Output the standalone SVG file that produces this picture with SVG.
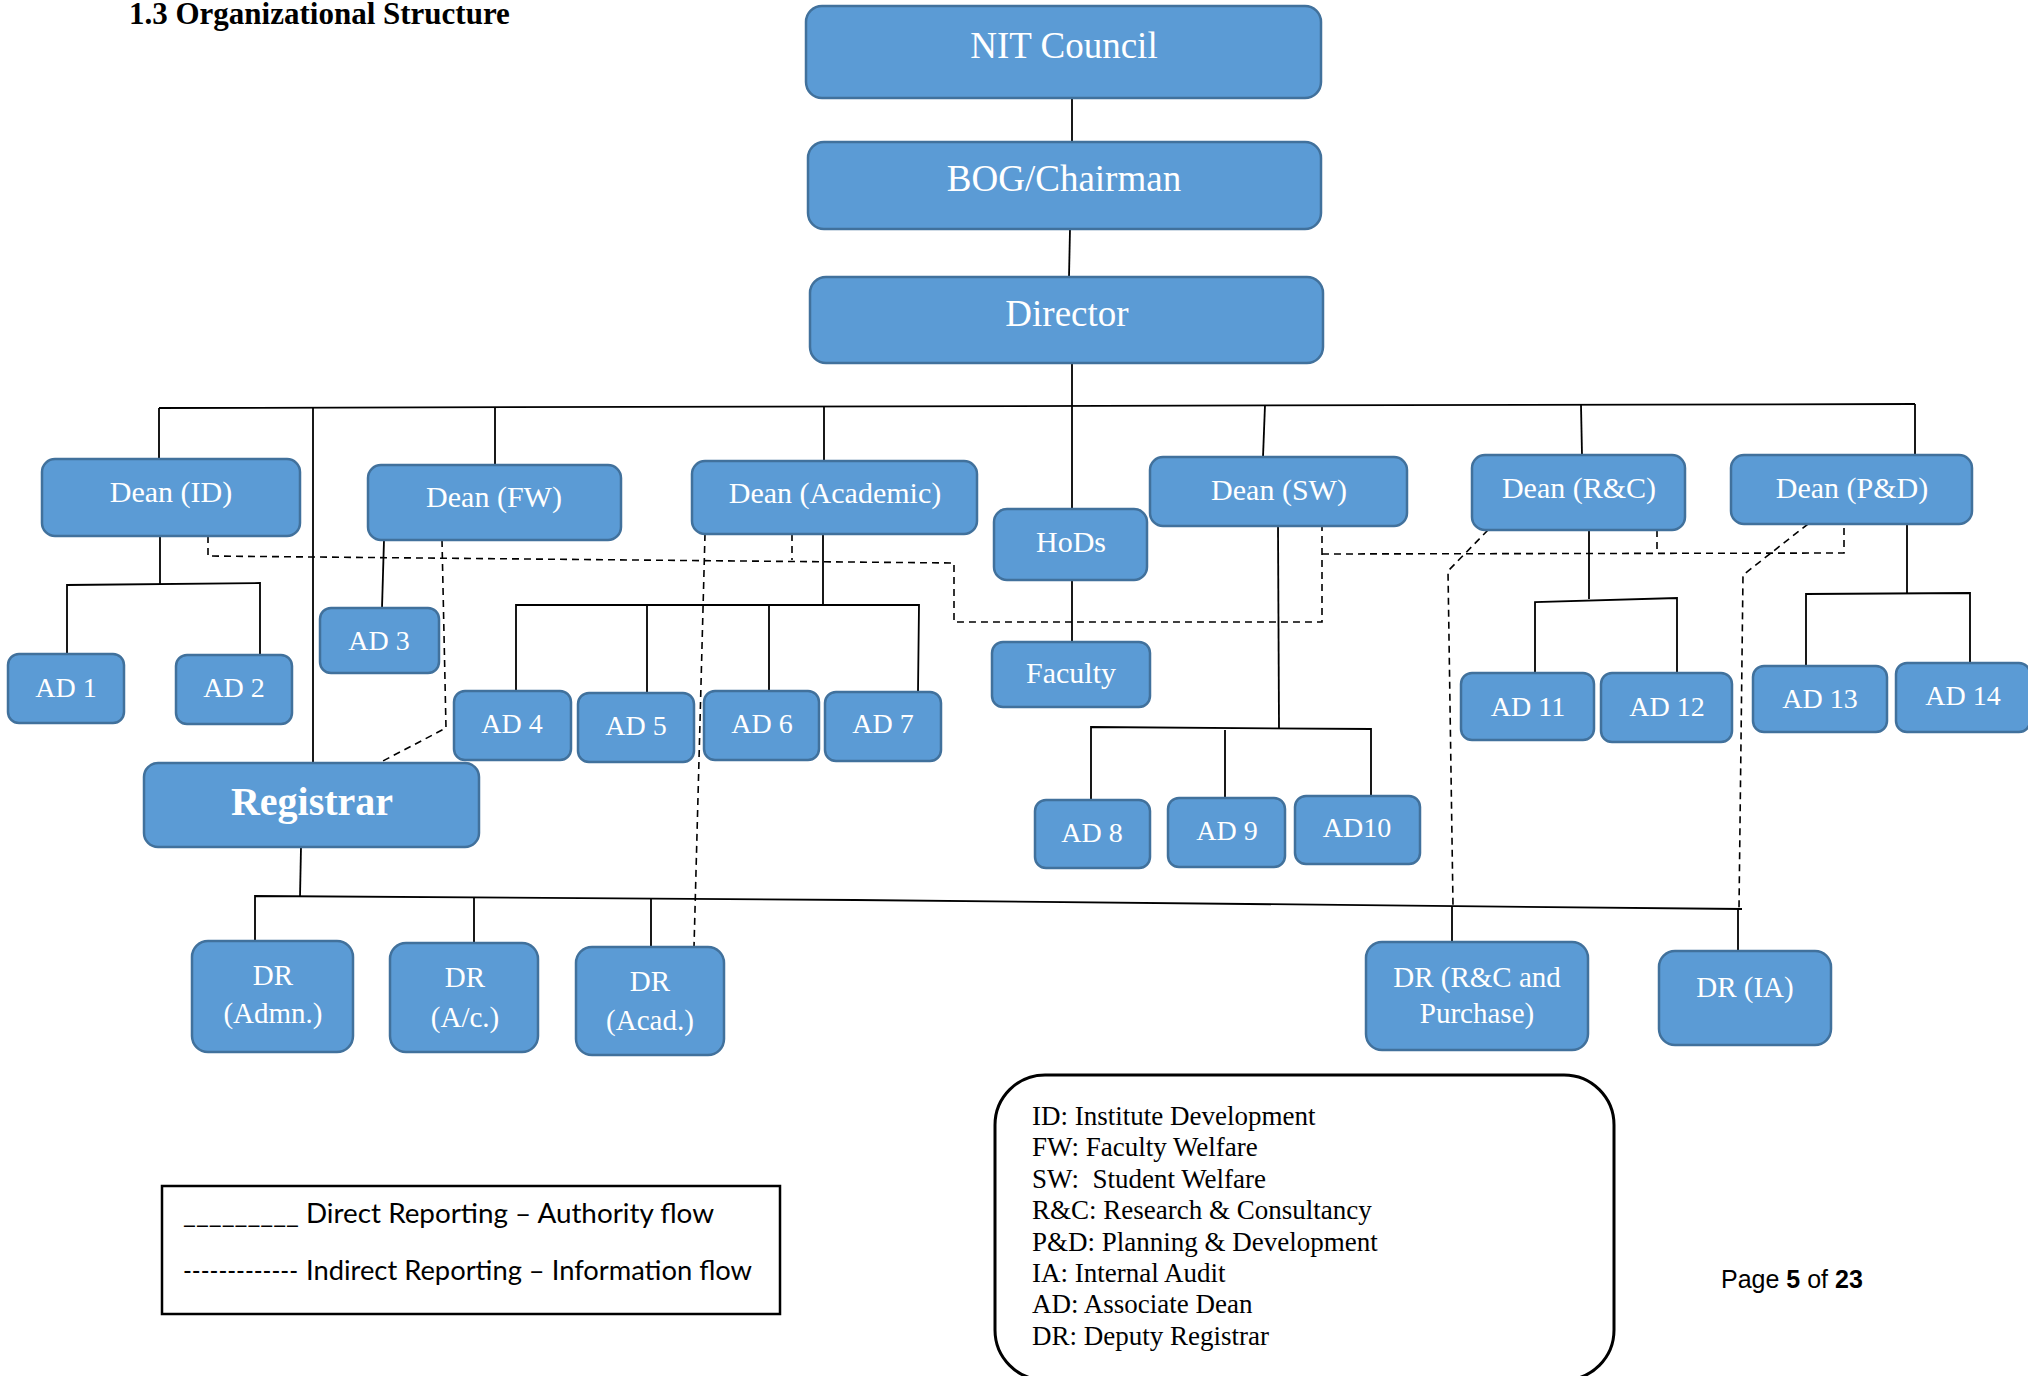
<svg xmlns="http://www.w3.org/2000/svg" width="2028" height="1376" viewBox="0 0 2028 1376">
<style>
.box{fill:#5B9BD5;stroke:#41719C;stroke-width:2.5}
.t{font-family:"Liberation Serif",serif;fill:#fff;text-anchor:middle}
.top{font-size:37px}
.dean{font-size:30px}
.ad{font-size:28px}
.dr{font-size:29px}
.solid{stroke:#000;stroke-width:1.8;fill:none}
.dash{stroke:#000;stroke-width:1.6;stroke-dasharray:7 5;fill:none}
.abbr{font-family:"Liberation Serif",serif;font-size:27px;fill:#000;white-space:pre}
.leg{font-family:Lato,"Liberation Sans",sans-serif;font-size:27px;fill:#000}
</style>
<rect width="2028" height="1376" fill="#fff"/>
<text x="129" y="24" font-family="'Liberation Serif',serif" font-weight="bold" font-size="31" fill="#000">1.3 Organizational Structure</text>

<g id="connectors">
  <path class="solid" d="M1072 98V142"/>
  <path class="solid" d="M1070 229L1069 277"/>
  <path class="solid" d="M1072 363V406"/>
  <path class="solid" d="M159 408L1915 404"/>
  <path class="solid" d="M159 408V459"/>
  <path class="solid" d="M313 407V763"/>
  <path class="solid" d="M495 407V465"/>
  <path class="solid" d="M824 406V461"/>
  <path class="solid" d="M1072 406V509"/>
  <path class="solid" d="M1265 405L1263 457"/>
  <path class="solid" d="M1581 405L1582 455"/>
  <path class="solid" d="M1915 404V455"/>
  <path class="solid" d="M160 536V584"/>
  <path class="solid" d="M67 654V585L260 583V654"/>
  <path class="solid" d="M384 540L382 608"/>
  <path class="solid" d="M823 534V605"/>
  <path class="solid" d="M516 691V605H919L918 692"/>
  <path class="solid" d="M647 605V693"/>
  <path class="solid" d="M769 605V691"/>
  <path class="solid" d="M1072 580V642"/>
  <path class="solid" d="M1278 526L1279 728"/>
  <path class="solid" d="M1091 800V727L1371 729V796"/>
  <path class="solid" d="M1225 730V798"/>
  <path class="solid" d="M1589 530V599"/>
  <path class="solid" d="M1535 673V602L1677 598V673"/>
  <path class="solid" d="M1907 524V594"/>
  <path class="solid" d="M1806 666V594L1970 593V663"/>
  <path class="solid" d="M301 847L300 897"/>
  <path class="solid" d="M255 941V896L855 900L1742 909"/>
  <path class="solid" d="M474 942V897"/>
  <path class="solid" d="M651 947V898"/>
  <path class="solid" d="M1452 942V906"/>
  <path class="solid" d="M1738 951V909"/>
  <path class="dash" d="M208 536V556L954 563V622H1322V526"/>
  <path class="dash" d="M1322 554L1844 553V524"/>
  <path class="dash" d="M1657 530V553"/>
  <path class="dash" d="M442 540L446 728L379 763"/>
  <path class="dash" d="M792 534V560"/>
  <path class="dash" d="M705 534L694 947"/>
  <path class="dash" d="M1488 530L1448 571L1453 905"/>
  <path class="dash" d="M1808 524L1743 575L1739 909"/>
</g>

<g id="nit-council"><rect class="box" x="806" y="6" width="515" height="92" rx="16"/><text class="t top" x="1064" y="58" font-size="38">NIT Council</text></g>
<g id="bog"><rect class="box" x="808" y="142" width="513" height="87" rx="16"/><text class="t top" x="1064" y="191">BOG/Chairman</text></g>
<g id="director"><rect class="box" x="810" y="277" width="513" height="86" rx="16"/><text class="t top" x="1067" y="326">Director</text></g>

<g id="dean-id"><rect class="box" x="42" y="459" width="258" height="77" rx="13"/><text class="t dean" x="171" y="502">Dean (ID)</text></g>
<g id="dean-fw"><rect class="box" x="368" y="465" width="253" height="75" rx="13"/><text class="t dean" x="494" y="507">Dean (FW)</text></g>
<g id="dean-academic"><rect class="box" x="692" y="461" width="285" height="73" rx="13"/><text class="t dean" x="835" y="503">Dean (Academic)</text></g>
<g id="hods"><rect class="box" x="994" y="509" width="153" height="71" rx="13"/><text class="t dean" x="1071" y="552">HoDs</text></g>
<g id="dean-sw"><rect class="box" x="1150" y="457" width="257" height="69" rx="13"/><text class="t dean" x="1279" y="500">Dean (SW)</text></g>
<g id="dean-rc"><rect class="box" x="1472" y="455" width="213" height="75" rx="13"/><text class="t dean" x="1579" y="498">Dean (R&amp;C)</text></g>
<g id="dean-pd"><rect class="box" x="1731" y="455" width="241" height="69" rx="13"/><text class="t dean" x="1852" y="498">Dean (P&amp;D)</text></g>

<g id="ad1"><rect class="box" x="8" y="654" width="116" height="69" rx="11"/><text class="t ad" x="66" y="697">AD 1</text></g>
<g id="ad2"><rect class="box" x="176" y="655" width="116" height="69" rx="11"/><text class="t ad" x="234" y="697">AD 2</text></g>
<g id="ad3"><rect class="box" x="320" y="608" width="119" height="65" rx="11"/><text class="t ad" x="379" y="650">AD 3</text></g>
<g id="ad4"><rect class="box" x="454" y="691" width="117" height="69" rx="11"/><text class="t ad" x="512" y="733">AD 4</text></g>
<g id="ad5"><rect class="box" x="578" y="693" width="116" height="69" rx="11"/><text class="t ad" x="636" y="735">AD 5</text></g>
<g id="ad6"><rect class="box" x="704" y="691" width="115" height="69" rx="11"/><text class="t ad" x="762" y="733">AD 6</text></g>
<g id="ad7"><rect class="box" x="825" y="692" width="116" height="69" rx="11"/><text class="t ad" x="883" y="733">AD 7</text></g>
<g id="faculty"><rect class="box" x="992" y="642" width="158" height="65" rx="11"/><text class="t dean" x="1071" y="683">Faculty</text></g>
<g id="ad8"><rect class="box" x="1035" y="800" width="115" height="68" rx="11"/><text class="t ad" x="1092" y="842">AD 8</text></g>
<g id="ad9"><rect class="box" x="1168" y="798" width="117" height="69" rx="11"/><text class="t ad" x="1227" y="840">AD 9</text></g>
<g id="ad10"><rect class="box" x="1295" y="796" width="125" height="68" rx="11"/><text class="t ad" x="1357" y="837">AD10</text></g>
<g id="ad11"><rect class="box" x="1461" y="673" width="133" height="67" rx="11"/><text class="t ad" x="1528" y="716">AD 11</text></g>
<g id="ad12"><rect class="box" x="1601" y="673" width="131" height="69" rx="11"/><text class="t ad" x="1667" y="716">AD 12</text></g>
<g id="ad13"><rect class="box" x="1753" y="666" width="134" height="66" rx="11"/><text class="t ad" x="1820" y="708">AD 13</text></g>
<g id="ad14"><rect class="box" x="1896" y="663" width="134" height="69" rx="11"/><text class="t ad" x="1963" y="705">AD 14</text></g>

<g id="registrar"><rect class="box" x="144" y="763" width="335" height="84" rx="14"/><text class="t" x="312" y="815" font-size="40" font-weight="bold">Registrar</text></g>

<g id="dr-admn"><rect class="box" x="192" y="941" width="161" height="111" rx="16"/><text class="t dr" x="273" y="985">DR</text><text class="t dr" x="273" y="1023">(Admn.)</text></g>
<g id="dr-ac"><rect class="box" x="390" y="943" width="148" height="109" rx="16"/><text class="t dr" x="465" y="987">DR</text><text class="t dr" x="465" y="1027">(A/c.)</text></g>
<g id="dr-acad"><rect class="box" x="576" y="947" width="148" height="108" rx="16"/><text class="t dr" x="650" y="991">DR</text><text class="t dr" x="650" y="1030">(Acad.)</text></g>
<g id="dr-rc"><rect class="box" x="1366" y="942" width="222" height="108" rx="16"/><text class="t dr" x="1477" y="987">DR (R&amp;C and</text><text class="t dr" x="1477" y="1023">Purchase)</text></g>
<g id="dr-ia"><rect class="box" x="1659" y="951" width="172" height="94" rx="16"/><text class="t dr" x="1745" y="997">DR (IA)</text></g>

<g id="legend">
  <rect x="162" y="1186" width="618" height="128" fill="none" stroke="#000" stroke-width="2.5"/>
  <text class="leg" x="183" y="1223" textLength="116" lengthAdjust="spacingAndGlyphs">_________</text>
  <text class="leg" x="306" y="1223" textLength="408" lengthAdjust="spacingAndGlyphs">Direct Reporting – Authority flow</text>
  <text class="leg" x="183" y="1280" textLength="115" lengthAdjust="spacingAndGlyphs">-------------</text>
  <text class="leg" x="306" y="1280" textLength="446" lengthAdjust="spacingAndGlyphs">Indirect Reporting – Information flow</text>
</g>

<g id="abbreviations">
  <rect x="995" y="1075" width="619" height="305" rx="50" fill="none" stroke="#000" stroke-width="3"/>
  <text class="abbr" x="1032" y="1125">ID: Institute Development</text>
  <text class="abbr" x="1032" y="1156">FW: Faculty Welfare</text>
  <text class="abbr" x="1032" y="1188">SW:  Student Welfare</text>
  <text class="abbr" x="1032" y="1219">R&amp;C: Research &amp; Consultancy</text>
  <text class="abbr" x="1032" y="1251">P&amp;D: Planning &amp; Development</text>
  <text class="abbr" x="1032" y="1282">IA: Internal Audit</text>
  <text class="abbr" x="1032" y="1313">AD: Associate Dean</text>
  <text class="abbr" x="1032" y="1345">DR: Deputy Registrar</text>
</g>

<text x="1721" y="1288" font-family="'Liberation Sans',sans-serif" font-size="25" fill="#000">Page <tspan font-weight="bold">5</tspan> of <tspan font-weight="bold">23</tspan></text>
</svg>
